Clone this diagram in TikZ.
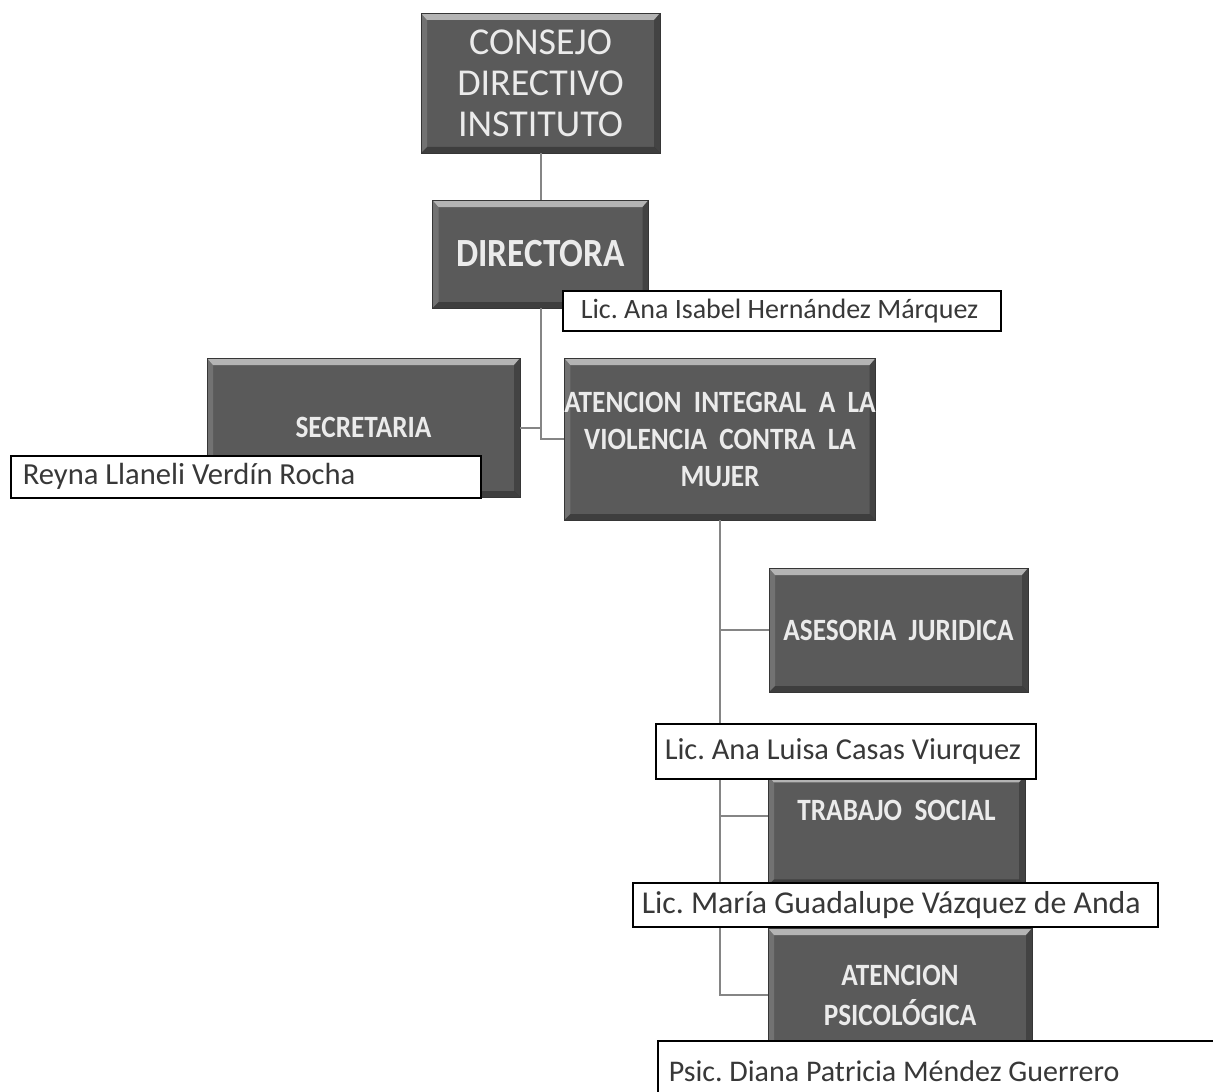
\documentclass[tikz,border=0pt]{standalone}
\usepackage{fontspec}
\setmainfont{Carlito}
\newfontfamily\unitfont[FakeStretch=0.88]{Carlito}
\usetikzlibrary{calc}
\definecolor{unitgray}{HTML}{5A5A5A}
\definecolor{linkgray}{HTML}{858585}
\definecolor{nametext}{HTML}{383838}
\frenchspacing
\tikzset{
	unit/.style={fill=unitgray, draw=unitgray!60!black, line width=.4pt, text=white!92!black, align=center, inner sep=0pt,
		font=\unitfont\bfseries\fontsize{15.5}{18.5}\selectfont,
		path picture={
			\fill[white, opacity=.55] (path picture bounding box.north west) -- (path picture bounding box.north east)
				-- ([shift={(-3pt,-3.5pt)}]path picture bounding box.north east) -- ([shift={(3pt,-3.5pt)}]path picture bounding box.north west) -- cycle;
			\fill[white, opacity=.15] (path picture bounding box.north west) -- ([shift={(3pt,-3.5pt)}]path picture bounding box.north west)
				-- ([shift={(3pt,3pt)}]path picture bounding box.south west) -- (path picture bounding box.south west) -- cycle;
			\fill[black, opacity=.25] (path picture bounding box.north east) -- ([shift={(-3pt,-3.5pt)}]path picture bounding box.north east)
				-- ([shift={(-3pt,3pt)}]path picture bounding box.south east) -- (path picture bounding box.south east) -- cycle;
			\fill[black, opacity=.3] (path picture bounding box.south west) -- ([shift={(3pt,3pt)}]path picture bounding box.south west)
				-- ([shift={(-3pt,3pt)}]path picture bounding box.south east) -- (path picture bounding box.south east) -- cycle;
		}},
	namebox/.style={draw=black, line width=.75pt, fill=white, text=nametext, anchor=north west, align=flush left,
		inner xsep=4.5pt, inner ysep=0pt, font=\fontsize{15}{17}\selectfont},
	link/.style={draw=linkgray, line width=1pt}
}
\begin{document}
\begin{tikzpicture}[x=0.5pt, y=-0.5pt]
	\useasboundingbox[fill=white] (0,0) rectangle (1213,1091);
	% Dirección
	\node[unit, minimum width=119.5pt, minimum height=70pt, font=\fontsize{19}{20.5}\selectfont] (consejo) at (540.5,83) {CONSEJO\\DIRECTIVO\\INSTITUTO};
	\node[unit, minimum width=108pt, minimum height=54pt, font=\unitfont\bfseries\fontsize{20}{22}\selectfont] (directora) at (540.5,254) {DIRECTORA};
	% Áreas
	\node[unit, minimum width=156.5pt, minimum height=69.5pt] (secretaria) at (363.5,427.5) {SECRETARIA};
	\node[unit, minimum width=155pt, minimum height=81pt] (atencion) at (720,439) {ATENCION~ INTEGRAL~ A~ LA\\VIOLENCIA~ CONTRA~ LA\\MUJER};
	\node[unit, minimum width=129.5pt, minimum height=62pt] (asesoria) at (898.5,630) {ASESORIA~ JURIDICA};
	\node[unit, minimum width=128.5pt, text height=22.5pt, text depth=32.5pt, anchor=north] (trabajo) at (896.5,775) {TRABAJO~ SOCIAL};
	\node[unit, minimum width=132pt, minimum height=67pt, font=\unitfont\bfseries\fontsize{15.5}{20}\selectfont] (psico) at (900,995) {ATENCION\\PSICOLÓGICA};
	% Líneas
	\draw[link] (consejo.south) -- (directora.north);
	\draw[link] (directora.south) |- (atencion.west);
	\draw[link] (secretaria.east) -- (secretaria.east -| directora.south);
	\draw[link] (atencion.south) |- (psico.west);
	\draw[link] (asesoria.west) -- (asesoria.west -| atencion.south);
	\draw[link] (trabajo.mid west) -- (trabajo.mid west -| atencion.south);
	% Nombres
	\node[namebox, inner xsep=9pt, text width=201pt, minimum height=20pt, font=\fontsize{14}{16}\selectfont] (dirname) at (562,290) {Lic. Ana Isabel Hernández Márquez};
	\node[namebox, inner xsep=6pt, text width=223pt, minimum height=21pt, font=\fontsize{15.3}{17}\selectfont] (secname) at (10,455) {Reyna Llaneli Verdín Rocha};
	\node[namebox, text width=181pt, minimum height=27.5pt, font=\fontsize{15.2}{17}\selectfont] (asename) at (655,723) {Lic. Ana Luisa Casas Viurquez};
	\node[namebox, text width=253.5pt, minimum height=22pt, font=\fontsize{15.9}{17}\selectfont] (mariname) at (632,882) {Lic. María Guadalupe Vázquez de Anda};
	\node[namebox, inner xsep=5.5pt, text width=289pt, minimum height=30pt] (psicname) at (657,1040) {Psic. Diana Patricia Méndez Guerrero};
\end{tikzpicture}
\end{document}
